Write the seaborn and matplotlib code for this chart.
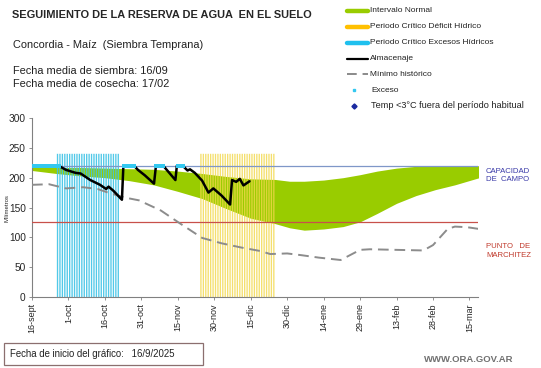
import numpy as np
import pandas as pd
import seaborn as sns
import matplotlib
matplotlib.use("Agg")
import matplotlib.pyplot as plt
from matplotlib.lines import Line2D
from matplotlib.patches import Rectangle

W, H = 541, 368

# ---------------- data ----------------
tick_days = [0, 15, 30, 45, 60, 75, 90, 105, 120, 135, 150, 165, 180]
tick_labels = ["16-sept", "1-oct", "16-oct", "31-oct", "15-nov", "30-nov", "15-dic",
               "30-dic", "14-ene", "29-ene", "13-feb", "28-feb", "15-mar"]

band_days = [0, 10, 20, 30, 40, 50, 60, 70, 80, 90, 100, 106, 112, 120, 128, 135,
             142, 150, 158, 166, 174, 184]
band_upper = [218, 217, 217, 216, 215, 214, 211, 207, 202, 198, 197, 194, 194, 196,
              200, 205, 211, 216, 219, 220, 220, 220]
band_lower = [212, 207, 203, 200, 195, 188, 177, 165, 148, 132, 123, 116, 112, 114,
              118, 126, 140, 157, 170, 180, 188, 200]

alm_days = [0, 11, 14, 18, 20, 24, 28, 30.5, 31.5, 33.5, 37, 37.6, 42, 43.6, 46.4,
            50.2, 51, 54, 59, 59.6, 62, 64, 65, 67, 70, 72.6, 74.6, 78, 81.5, 82.3,
            84, 85.5, 87, 89.5]
alm_values = [220, 220, 213, 208, 207, 196, 188, 181, 185, 178, 163, 220, 220, 213,
              204, 190, 220, 220, 196, 220, 220, 212, 214, 208, 195, 175, 182, 170,
              155, 196, 193, 198, 187, 194]

min_days = [0, 7, 14, 21, 27, 32, 39, 44, 53, 61, 70, 78, 86, 94, 98, 105, 111, 118,
            127, 135, 139, 161, 165, 171, 174, 179, 184]
min_values = [188, 189, 182, 184, 181, 174, 166, 162, 145, 123, 99, 90, 83, 77, 72,
              73, 70, 66, 62, 79, 80, 78, 87, 114, 118, 117, 114]

exceso_days = [0, 1, 2, 3, 4, 5, 6, 7, 8, 9, 10, 11, 38, 39, 40, 41, 42, 51, 52, 53,
               54, 60, 61, 62]
exceso_value = 220

excess_period = (10.5, 35.5)
deficit_period = (69.5, 99.5)
period_height = 240
capacidad = 220
marchitez = 125

# ---------------- style ----------------
sns.set_theme(style="white")
plt.rcParams['font.family'] = ['Liberation Sans', 'DejaVu Sans']

fig = plt.figure(figsize=(W / 100, H / 100), dpi=100)
ax = fig.add_axes([32 / W, 1 - 297 / H, (478 - 32) / W, (297 - 118) / H])


def fx(px):
    return px / W


def fy(py):
    return 1 - py / H


green = "#99cc00"
cyan_bar = "#3fc3e6"
yellow_bar = "#f2d84a"

band = pd.DataFrame({"day": band_days, "upper": band_upper, "lower": band_lower})
ax.fill_between(band["day"], band["lower"], band["upper"], color=green, lw=0, zorder=1)

# critical periods as stripes
for (start, end), col, al in [(excess_period, cyan_bar, 0.9),
                              (deficit_period, yellow_bar, 0.8)]:
    days = np.arange(start, end + 0.01, 1.0)
    bars = ax.bar(days, [period_height] * len(days), width=0.55, color=col, alpha=al,
                  lw=0, zorder=2)
    for b in bars:
        b.set_snap(False)

ax.axhline(capacidad, color="#7f97c8", lw=0.9, zorder=3)
ax.axhline(marchitez, color="#c8504a", lw=0.9, zorder=3)

mins = pd.DataFrame({"day": min_days, "value": min_values})
sns.lineplot(data=mins, x="day", y="value", ax=ax, color="#8c8c8c", lw=1.4,
             zorder=4, estimator=None, sort=False)
ax.lines[-1].set_dashes([5.5, 3])

alm = pd.DataFrame({"day": alm_days, "value": alm_values})
sns.lineplot(data=alm, x="day", y="value", ax=ax, color="black", lw=1.8,
             zorder=5, estimator=None, sort=False)

exc = pd.DataFrame({"day": exceso_days, "value": [exceso_value] * len(exceso_days)})
sns.scatterplot(data=exc, x="day", y="value", ax=ax, color="#33c8f0", s=9,
                marker="s", linewidth=0, zorder=6)

ax.set_xlim(0, 183.5)
ax.set_ylim(0, 300)
ax.set_xticks(tick_days)
ax.set_xticklabels(tick_labels, rotation=90, fontsize=6.5)
ax.set_yticks([0, 50, 100, 150, 200, 250, 300])
ax.tick_params(axis="y", labelsize=7.3, length=2.5, width=0.6, color="#808080", pad=2,
               left=True)
ax.tick_params(axis="x", length=2.5, width=0.6, color="#808080", pad=2, bottom=True)
ax.set_xlabel("")
ax.set_ylabel("")
for s in ["top", "right"]:
    ax.spines[s].set_visible(False)
for s in ["left", "bottom"]:
    ax.spines[s].set_color("#808080")
    ax.spines[s].set_linewidth(0.8)

fig.text(fx(7), fy(208), "Milímetros", rotation=90, fontsize=4.3, ha="center",
         va="center")

# ---------------- header texts ----------------
fig.text(fx(12), fy(15), "SEGUIMIENTO DE LA RESERVA DE AGUA  EN EL SUELO",
         fontsize=7.9, fontweight="bold", va="center", ha="left")
fig.text(fx(13), fy(45), "Concordia - Maíz  (Siembra Temprana)", fontsize=7.9,
         va="center", ha="left", color="#222222")
fig.text(fx(13), fy(71), "Fecha media de siembra: 16/09", fontsize=7.9,
         va="center", ha="left", color="#222222")
fig.text(fx(13), fy(84), "Fecha media de cosecha: 17/02", fontsize=7.9,
         va="center", ha="left", color="#222222")

# ---------------- legend ----------------
leg_rows = [10.7, 26.7, 42.7, 58.7, 74, 90, 105.7]
leg_labels = ["Intervalo Normal", "Periodo Crítico Déficit Hídrico",
              "Periodo Crítico Excesos Hídricos", "Almacenaje", "Mínimo histórico",
              "Exceso", "Temp <3°C fuera del período habitual"]
x0, x1, xt = 347, 368, 370
fig.add_artist(Line2D([fx(x0), fx(x1)], [fy(leg_rows[0])] * 2, color=green, lw=3.2))
fig.add_artist(Line2D([fx(x0), fx(x1)], [fy(leg_rows[1])] * 2, color="#ffc000", lw=3.2))
fig.add_artist(Line2D([fx(x0), fx(x1)], [fy(leg_rows[2])] * 2, color="#1fc0ee", lw=3.2))
fig.add_artist(Line2D([fx(x0), fx(x1)], [fy(leg_rows[3])] * 2, color="black", lw=1.6))
fig.add_artist(Line2D([fx(x0), fx(x1)], [fy(leg_rows[4])] * 2, color="#8a8a8a", lw=1.4,
                      dashes=[5, 3]))
fig.add_artist(Line2D([fx(354)], [fy(leg_rows[5])], marker="s", color="#33c8f0",
                      markersize=2, lw=0))
fig.add_artist(Line2D([fx(354)], [fy(leg_rows[6])], marker="D", color="#1a2aa0",
                      markersize=2.6, lw=0))
for i, (r, lab) in enumerate(zip(leg_rows, leg_labels)):
    xx = xt if i < 5 else 371
    fs = 6.0 if i < 6 else 6.6
    fig.text(fx(xx), fy(r), lab, fontsize=fs, va="center", ha="left",
             color="#222222")

# ---------------- right annotations ----------------
fig.text(fx(486), fy(175), "CAPACIDAD\nDE  CAMPO", fontsize=5.6, color="#3a3aa8",
         va="center", ha="left", linespacing=1.2)
fig.text(fx(486), fy(251), "PUNTO   DE\nMARCHITEZ", fontsize=5.6, color="#c0392b",
         va="center", ha="left", linespacing=1.25)

# ---------------- footer ----------------
fig.add_artist(Rectangle((fx(4), fy(365)), (203 - 4) / W, (365 - 343) / H,
                         transform=fig.transFigure, fill=False,
                         edgecolor="#8b6f6f", lw=0.9))
fig.text(fx(10), fy(354), "Fecha de inicio del gráfico:   16/9/2025", fontsize=6.9,
         va="center", ha="left", color="#222222")
fig.text(fx(424), fy(359), "WWW.ORA.GOV.AR", fontsize=6.8, va="center", ha="left",
         color="#707070", fontweight="bold")

fig.savefig("out.png", dpi=100)
